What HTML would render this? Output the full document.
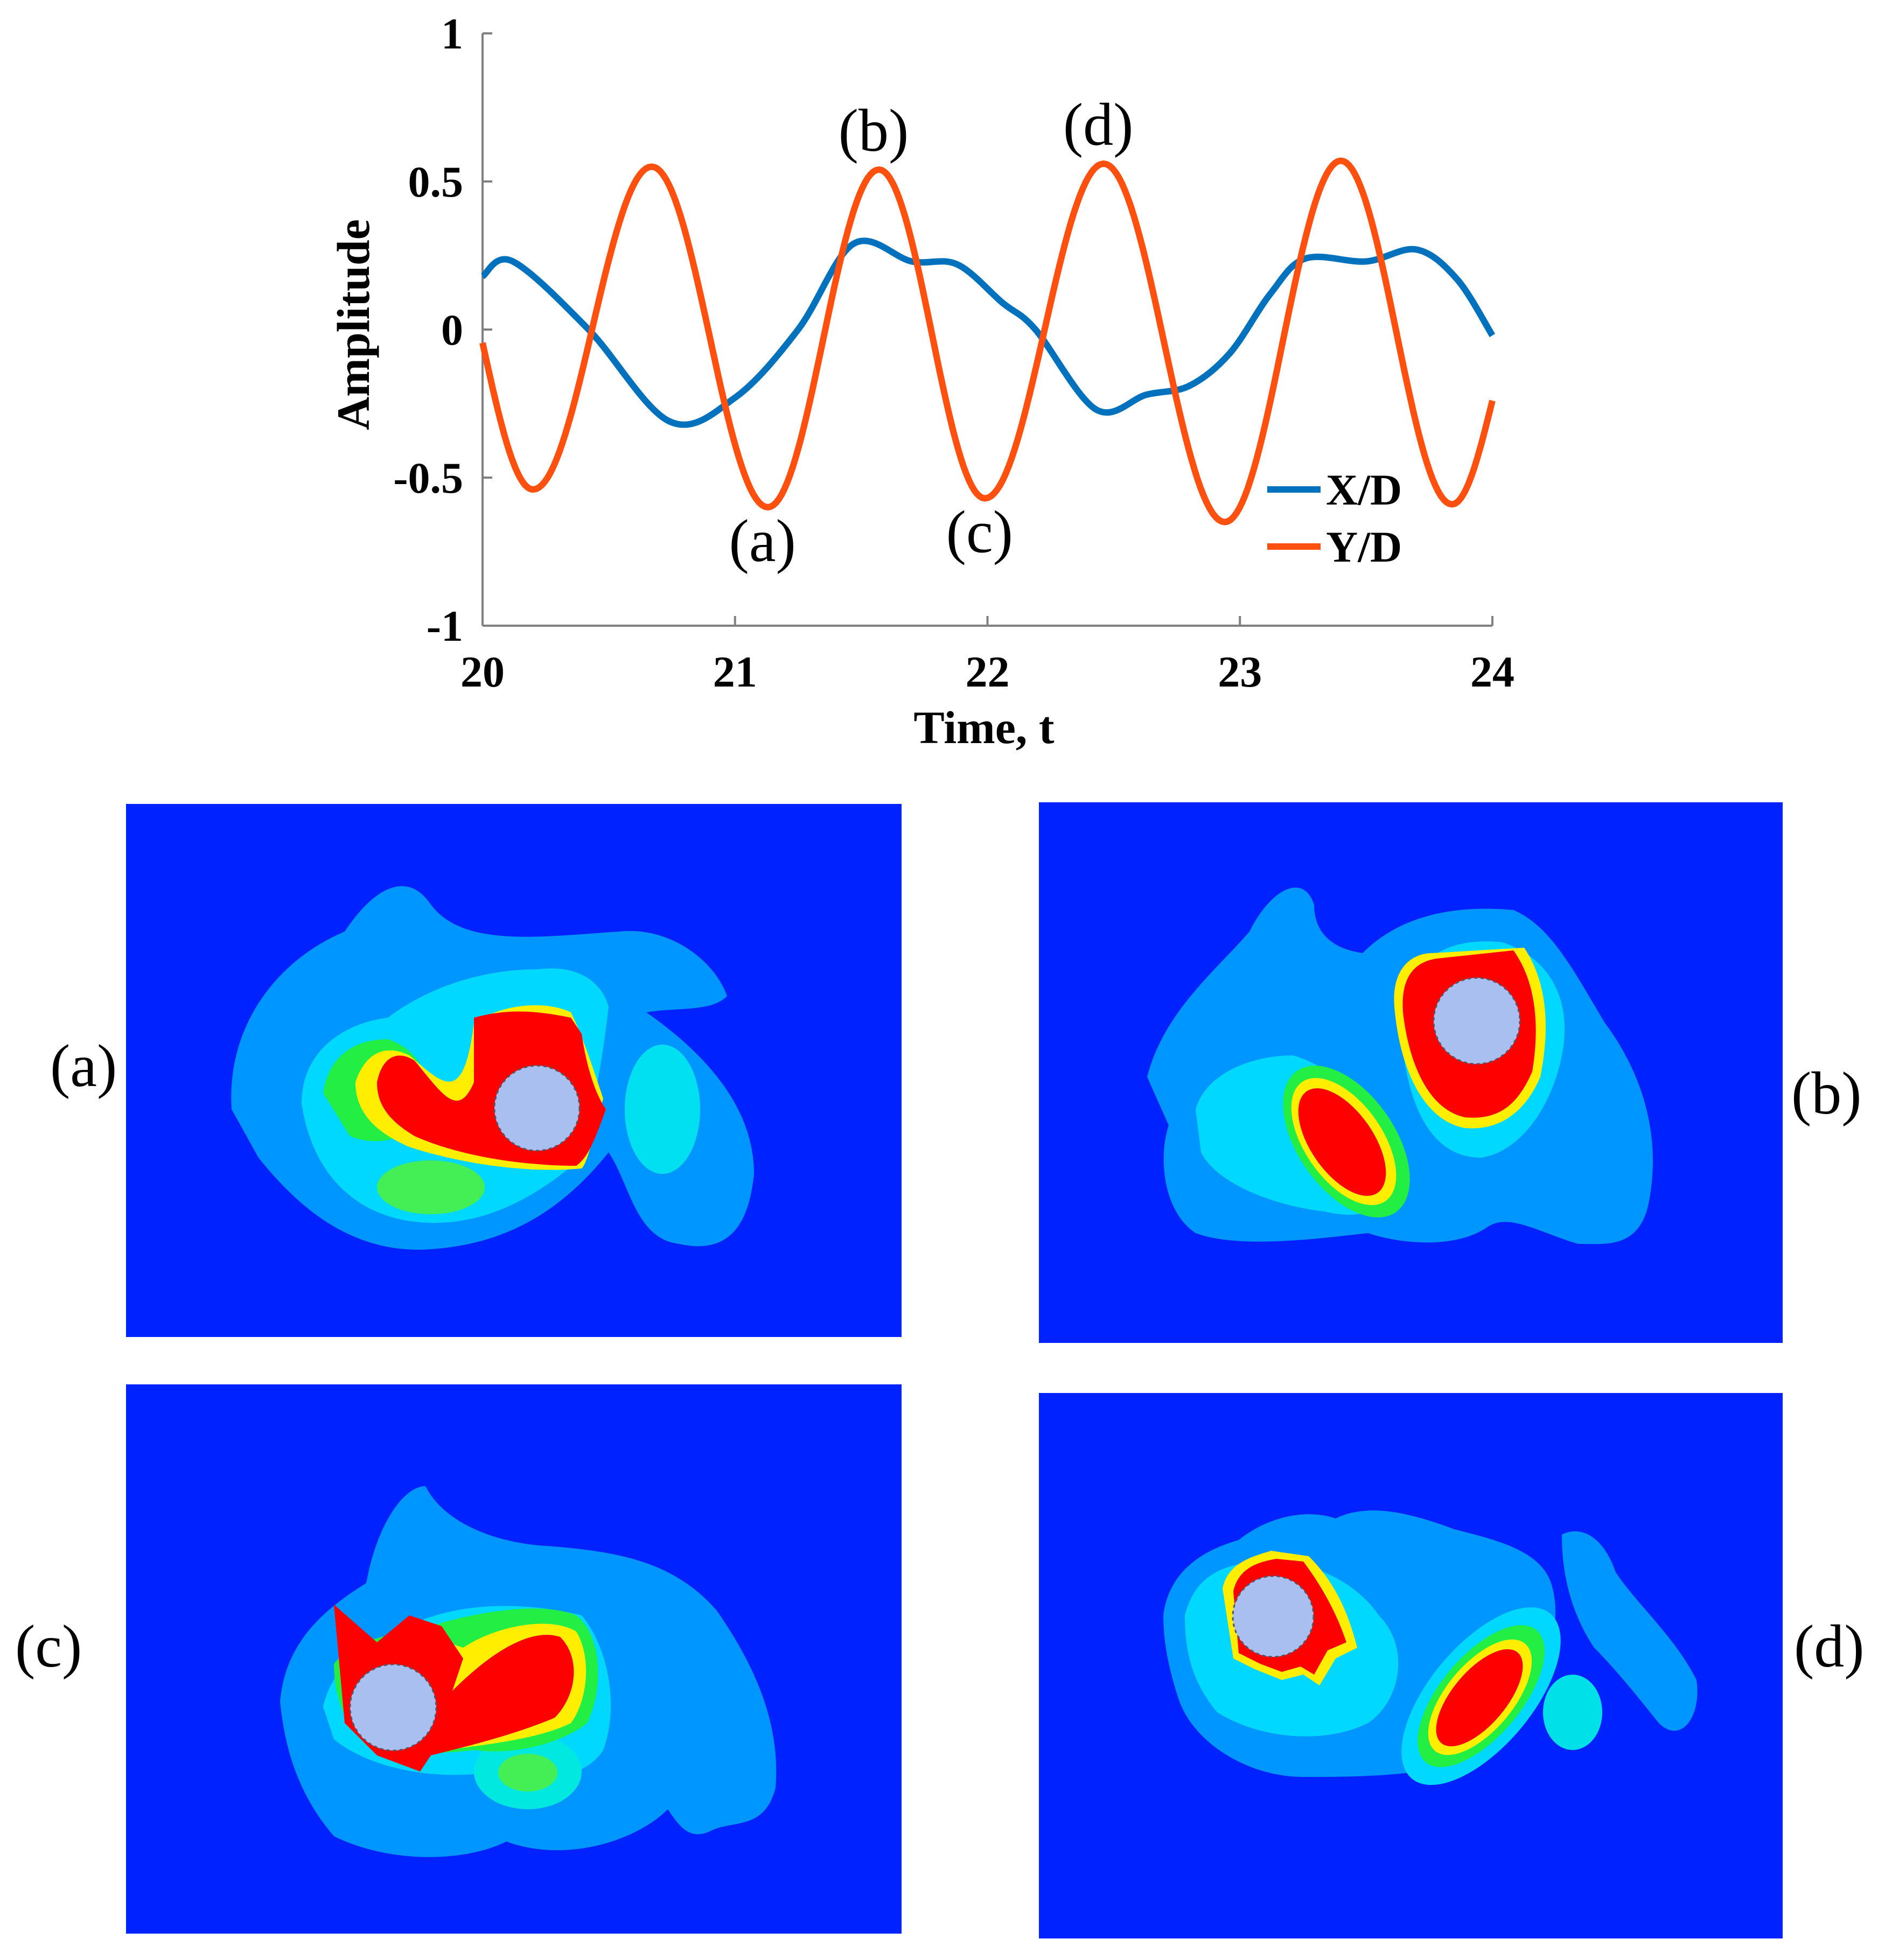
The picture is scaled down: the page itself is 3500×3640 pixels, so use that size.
<!DOCTYPE html>
<html><head><meta charset="utf-8">
<style>
html,body{margin:0;padding:0;background:#fff;}
svg{display:block;font-family:"Liberation Serif",serif;}
</style></head>
<body>
<svg id="fig" width="3500" height="3640" viewBox="0 0 3500 3640">
<g id="chart"></g>

<!-- Panel (a) -->
<g>
<rect x="234" y="1493" width="1440" height="990" fill="#0022ff"/>
<path d="M430,2060 C420,1900 520,1780 640,1730 C700,1640 760,1620 800,1680 C860,1760 1000,1740 1150,1730 C1250,1720 1330,1790 1350,1850 C1320,1880 1260,1870 1200,1880 C1300,1950 1400,2050 1400,2180 C1390,2280 1350,2330 1260,2310 C1180,2300 1170,2200 1130,2140 C1050,2240 950,2310 800,2320 C660,2330 560,2250 480,2150 Z" fill="#0096ff"/>
<path d="M560,2050 C560,1950 640,1900 720,1890 C800,1830 900,1800 1000,1800 C1080,1790 1120,1830 1130,1870 C1120,1960 1100,2070 1080,2150 C1000,2220 900,2280 780,2270 C660,2260 580,2180 560,2050 Z" fill="#00d8ff"/>
<ellipse cx="1230" cy="2060" rx="70" ry="120" fill="#00e0f0"/>
<path d="M600,2030 C610,1960 660,1930 720,1930 C780,1950 800,2000 790,2060 C760,2120 700,2130 650,2110 Z" fill="#22ee44"/>
<ellipse cx="800" cy="2205" rx="100" ry="50" fill="#44ee55"/>
<path d="M660,2010 C680,1950 720,1940 760,1960 C820,2010 860,2060 880,1900 C940,1860 1020,1860 1060,1880 C1080,1920 1100,1980 1120,2040 C1100,2120 1090,2160 1080,2170 C980,2180 850,2160 760,2130 C690,2100 660,2060 660,2010 Z" fill="#ffee00"/>
<path d="M700,2010 C710,1960 740,1950 770,1970 C820,2030 850,2080 880,2010 L880,1890 C950,1870 1010,1880 1060,1890 L1080,1920 C1090,1990 1110,2040 1125,2060 C1100,2130 1090,2150 1070,2165 C980,2165 860,2150 770,2110 C720,2080 700,2050 700,2010 Z" fill="#ff0000"/>
<circle cx="997" cy="2058" r="79" fill="#a8bff0" stroke="#556" stroke-width="3" stroke-dasharray="6,6"/>
</g>

<!-- Panel (b) -->
<g>
<rect x="1929" y="1490" width="1381" height="1004" fill="#0022ff"/>
<path d="M2130,2000 C2160,1880 2260,1800 2320,1730 C2360,1650 2420,1620 2440,1680 C2440,1720 2460,1760 2530,1770 C2600,1700 2700,1680 2810,1690 C2880,1720 2920,1800 2980,1900 C3040,1980 3090,2100 3060,2240 C3040,2320 2980,2310 2930,2310 C2860,2290 2800,2250 2760,2280 C2700,2320 2600,2310 2540,2290 C2450,2300 2300,2320 2220,2290 C2160,2250 2150,2150 2170,2090 Z" fill="#0096ff"/>
<path d="M2220,2060 C2240,1990 2330,1960 2400,1960 C2480,1980 2580,2080 2600,2160 C2600,2240 2540,2270 2460,2250 C2370,2240 2260,2200 2230,2140 Z" fill="#00d8ff"/>
<path d="M2600,1900 C2610,1770 2700,1740 2790,1750 C2880,1780 2920,1860 2900,1960 C2880,2060 2820,2140 2750,2150 C2660,2150 2610,2060 2600,1900 Z" fill="#00d8ff"/>
<ellipse cx="2500" cy="2120" rx="160" ry="90" transform="rotate(55 2500 2120)" fill="#22ee44"/>
<ellipse cx="2495" cy="2120" rx="135" ry="72" transform="rotate(55 2495 2120)" fill="#ffee00"/>
<ellipse cx="2492" cy="2121" rx="115" ry="58" transform="rotate(55 2492 2121)" fill="#ff0000"/>
<path d="M2590,1880 C2580,1800 2620,1770 2660,1770 L2830,1760 C2870,1820 2880,1900 2860,2000 C2830,2070 2780,2100 2720,2095 C2640,2080 2600,1980 2590,1880 Z" fill="#ffee00"/>
<path d="M2605,1880 C2600,1810 2630,1785 2670,1780 L2810,1765 C2850,1820 2860,1900 2845,1990 C2815,2060 2775,2080 2720,2075 C2650,2060 2615,1970 2605,1880 Z" fill="#ff0000"/>
<circle cx="2742" cy="1896" r="80" fill="#a8bff0" stroke="#556" stroke-width="3" stroke-dasharray="6,6"/>
</g>

<!-- Panel (c) -->
<g>
<rect x="234" y="2571" width="1440" height="1020" fill="#0022ff"/>
<path d="M520,3160 C530,3050 600,2990 680,2940 C700,2830 750,2760 790,2760 C820,2820 900,2860 1000,2870 C1150,2880 1250,2900 1330,2990 C1400,3090 1450,3200 1440,3320 C1420,3400 1360,3380 1320,3400 C1280,3420 1260,3390 1240,3360 C1180,3420 1050,3460 940,3420 C860,3460 720,3460 620,3410 C560,3340 530,3260 520,3160 Z" fill="#0096ff"/>
<path d="M600,3170 C620,3080 700,3040 780,3010 C880,2970 1000,2980 1080,3000 C1130,3060 1150,3170 1120,3250 C1090,3300 1000,3320 920,3290 C800,3310 680,3280 620,3230 Z" fill="#00d8ff"/>
<ellipse cx="980" cy="3290" rx="100" ry="70" fill="#00e8e0"/>
<ellipse cx="980" cy="3292" rx="55" ry="35" fill="#44ee55"/>
<path d="M620,3090 C660,3040 720,3040 800,3020 C860,3000 1000,2970 1070,3000 C1120,3040 1120,3140 1090,3200 C1040,3240 950,3260 880,3250 C800,3260 700,3260 660,3220 C630,3180 620,3130 620,3090 Z" fill="#22ee44"/>
<path d="M640,3100 C660,3050 720,3060 800,3040 L860,3060 C920,3020 1020,3000 1070,3030 C1100,3080 1090,3160 1060,3200 C1000,3230 900,3240 830,3250 C760,3260 690,3250 660,3210 Z" fill="#ffee00"/>
<path d="M620,2980 L700,3050 L760,3000 L820,3020 L860,3080 L840,3140 C900,3080 980,3020 1040,3040 C1080,3080 1070,3150 1030,3190 C960,3220 880,3240 800,3260 L780,3290 L700,3260 L640,3200 Z" fill="#ff0000"/>
<circle cx="730" cy="3171" r="80" fill="#a8bff0" stroke="#556" stroke-width="3" stroke-dasharray="6,6"/>
</g>

<!-- Panel (d) -->
<g>
<rect x="1929" y="2587" width="1381" height="1013" fill="#0022ff"/>
<path d="M2160,3000 C2170,2920 2230,2880 2300,2860 C2350,2820 2420,2800 2480,2820 C2540,2790 2620,2810 2700,2840 C2780,2860 2860,2880 2880,2940 C2900,3000 2880,3080 2850,3150 C2820,3220 2760,3260 2690,3280 C2600,3300 2500,3300 2420,3300 C2320,3300 2220,3240 2190,3160 C2170,3100 2160,3050 2160,3000 Z" fill="#0096ff"/>
<path d="M2900,2850 C2940,2830 2980,2860 3000,2920 C3040,2980 3110,3040 3150,3120 C3160,3190 3120,3240 3080,3200 C3040,3150 3000,3100 2960,3060 C2920,3000 2900,2930 2900,2850 Z" fill="#0096ff"/>
<path d="M2200,3000 C2220,2920 2280,2900 2360,2900 C2440,2900 2520,2940 2560,3000 C2620,3060 2600,3160 2540,3200 C2460,3240 2340,3230 2260,3180 C2210,3120 2200,3060 2200,3000 Z" fill="#00d8ff"/>
<ellipse cx="2750" cy="3150" rx="200" ry="95" transform="rotate(-50 2750 3150)" fill="#00d8ff"/>
<ellipse cx="2750" cy="3150" rx="160" ry="75" transform="rotate(-50 2750 3150)" fill="#22ee44"/>
<ellipse cx="2748" cy="3152" rx="130" ry="62" transform="rotate(-50 2748 3152)" fill="#ffee00"/>
<ellipse cx="2747" cy="3153" rx="110" ry="50" transform="rotate(-50 2747 3153)" fill="#ff0000"/>
<ellipse cx="2920" cy="3180" rx="55" ry="70" fill="#00e0e8"/>
<path d="M2270,2950 C2280,2900 2330,2890 2360,2880 L2430,2890 C2470,2930 2500,2980 2520,3060 L2480,3080 L2450,3130 L2420,3110 L2380,3120 L2330,3100 L2290,3080 Z" fill="#ffee00"/>
<path d="M2290,2955 C2300,2910 2340,2900 2370,2895 L2420,2900 C2450,2940 2480,2990 2500,3050 L2465,3065 L2440,3110 L2415,3095 L2380,3105 L2340,3090 L2300,3070 Z" fill="#ff0000"/>
<circle cx="2364" cy="3002" r="75" fill="#a8bff0" stroke="#556" stroke-width="3" stroke-dasharray="6,6"/>
</g>

<g font-size="112" fill="#000">
<text x="93" y="2017">(a)</text>
<text x="3326" y="2068">(b)</text>
<text x="28" y="3095">(c)</text>
<text x="3331" y="3095">(d)</text>
</g>
</svg>

<script>
const xTicks = [20, 21, 22, 23, 24];
const yTicks = [1, 0.5, 0, -0.5, -1];
const yTickLabels = ["1", "0.5", "0", "-0.5", "-1"];
const xT = [20, 20.12, 20.42, 20.74, 21.0, 21.25, 21.47, 21.7, 21.88, 22.06, 22.19, 22.43, 22.63, 22.8, 22.96, 23.12, 23.26, 23.5, 23.7, 23.86, 24.0];
const xV = [0.18, 0.23, 0.0, -0.31, -0.23, 0.0, 0.29, 0.23, 0.22, 0.09, 0.0, -0.27, -0.22, -0.19, -0.08, 0.12, 0.24, 0.23, 0.27, 0.17, -0.02];
const yT = [20, 20.2, 20.67, 21.13, 21.57, 21.99, 22.46, 22.94, 23.4, 23.84, 24.0];
const yV = [-0.045, -0.54, 0.55, -0.6, 0.54, -0.57, 0.56, -0.65, 0.57, -0.59, -0.24];
const annLabels = ["(a)", "(b)", "(c)", "(d)"];
const annT = [21.13, 21.57, 21.99, 22.46];
const annV = [-0.6, 0.54, -0.57, 0.56];

const NS = "http://www.w3.org/2000/svg";
const g = document.getElementById("chart");
const X0 = 896, X1 = 2771, Y0 = 612, YU = 550;
function sx(t) { return X0 + (t - 20) / 4 * (X1 - X0); }
function sy(v) { return Y0 - v * YU; }
function el(tag, attrs, parent) {
  const e = document.createElementNS(NS, tag);
  for (const k in attrs) e.setAttribute(k, attrs[k]);
  (parent || g).appendChild(e);
  return e;
}
function smoothPath(ts, vs) {
  const p = ts.map((t, i) => [sx(t), sy(vs[i])]);
  let d = "M" + p[0][0] + "," + p[0][1];
  for (let i = 0; i < p.length - 1; i++) {
    const p0 = p[Math.max(0, i - 1)], p1 = p[i], p2 = p[i + 1], p3 = p[Math.min(p.length - 1, i + 2)];
    const c1x = p1[0] + (p2[0] - p0[0]) / 6, c1y = p1[1] + (p2[1] - p0[1]) / 6;
    const c2x = p2[0] - (p3[0] - p1[0]) / 6, c2y = p2[1] - (p3[1] - p1[1]) / 6;
    d += " C" + c1x + "," + c1y + " " + c2x + "," + c2y + " " + p2[0] + "," + p2[1];
  }
  return d;
}
// half-cosine segments between consecutive extrema (sinusoidal shape)
function cosPath(ts, vs) {
  let d = "M" + sx(ts[0]) + "," + sy(vs[0]);
  for (let i = 0; i < ts.length - 1; i++) {
    const last = i === ts.length - 2;
    for (let k = 1; k <= 40; k++) {
      const f = k / 40;
      const t = ts[i] + (ts[i + 1] - ts[i]) * f;
      let w;
      if (i === 0 || last) {
        // partial segments at the ends: use quarter-ish sine shape
        w = last ? Math.sin(f * Math.PI / 2) * 0 + (1 - Math.cos(f * Math.PI / 2)) : Math.sin(f * Math.PI / 2);
      } else {
        w = (1 - Math.cos(f * Math.PI)) / 2;
      }
      const v = vs[i] + (vs[i + 1] - vs[i]) * w;
      d += " L" + sx(t).toFixed(1) + "," + sy(v).toFixed(1);
    }
  }
  return d;
}

const ax = el("line", {x1: X0, y1: sy(1), x2: X0, y2: sy(-1), stroke: "#808080", "stroke-width": 4});


const bx = el("line", {x1: X0, y1: sy(-1), x2: X1, y2: sy(-1), stroke: "#808080", "stroke-width": 4});



xTicks.forEach(t => {
  el("line", {x1: sx(t), y1: sy(-1), x2: sx(t), y2: sy(-1) - 18, stroke: "#808080", "stroke-width": 4});
  const tx = el("text", {x: sx(t), y: 1275, "text-anchor": "middle", "font-size": 82, "font-weight": "bold"});
  tx.textContent = t;
  
  
});
yTicks.forEach((v, i) => {
  el("line", {x1: X0, y1: sy(v), x2: X0 + 18, y2: sy(v), stroke: "#808080", "stroke-width": 4});
  const tx = el("text", {x: 860, y: sy(v) + 28, "text-anchor": "end", "font-size": 82, "font-weight": "bold"});
  tx.textContent = yTickLabels[i];
  
  
});

const xl = el("text", {x: 1827, y: 1380, "text-anchor": "middle", "font-size": 86, "font-weight": "bold"});
xl.textContent = "Time, t";


const yl = el("text", {x: 0, y: 0, "text-anchor": "middle", "font-size": 86, "font-weight": "bold", transform: "translate(685,603) rotate(-90)"});
yl.textContent = "Amplitude";



const lx = el("path", {d: smoothPath(xT, xV), fill: "none", stroke: "#0072BD", "stroke-width": 12, "stroke-linejoin": "round"});


const ly = el("path", {d: cosPath(yT, yV), fill: "none", stroke: "#FF5010", "stroke-width": 12, "stroke-linejoin": "round"});



annLabels.forEach((s, i) => {
  const below = annV[i] < 0;
  const tx = el("text", {x: sx(annT[i]) - 10, y: below ? sy(annV[i]) + 100 : sy(annV[i]) - 35, "text-anchor": "middle", "font-size": 112});
  tx.textContent = s;
  
  
});

const legNames = ["X/D", "Y/D"], legCols = ["#0072BD", "#FF5010"], legY = [909, 1015];
legNames.forEach((n, i) => {
  const ln = el("line", {x1: 2353, y1: legY[i], x2: 2452, y2: legY[i], stroke: legCols[i], "stroke-width": 12});
  
  
  const tx = el("text", {x: 2462, y: legY[i] + 28, "font-size": 82, "font-weight": "bold"});
  tx.textContent = n;
  
  
});
</script>
</body></html>
